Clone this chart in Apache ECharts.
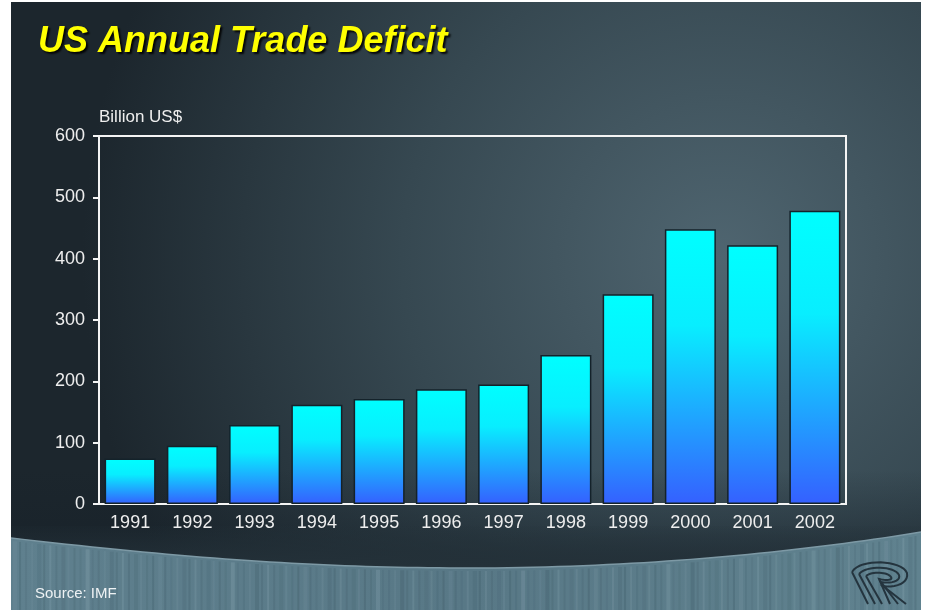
<!DOCTYPE html>
<html>
<head>
<meta charset="utf-8">
<title>US Annual Trade Deficit</title>
<script src="https://cdn.jsdelivr.net/npm/echarts@6/dist/echarts.min.js"></script>
<style>
  html, body { margin: 0; padding: 0; background: #ffffff; }
  #chart { width: 926px; height: 610px; }
</style>
</head>
<body>
<div id="chart"></div>
<script>
// Annual US trade deficit, billion US$
const years = ['1991', '1992', '1993', '1994', '1995', '1996', '1997', '1998', '1999', '2000', '2001', '2002'];
const deficit = [74, 95, 129, 162, 171, 187, 195, 243, 342, 448, 422, 478];
const yTicks = [0, 100, 200, 300, 400, 500, 600];

const W = 926, H = 610;
const PANEL = { x: 11, y: 2, w: 910, h: 608 };
const FONT = 'Liberation Sans, Arial, sans-serif';
const R = PANEL.x + PANEL.w;

// sample a cubic bezier into points
function cubic(p0, p1, p2, p3, n) {
  const pts = [];
  for (let i = 0; i <= n; i++) {
    const t = i / n, u = 1 - t;
    pts.push([
      u * u * u * p0[0] + 3 * u * u * t * p1[0] + 3 * u * t * t * p2[0] + t * t * t * p3[0],
      u * u * u * p0[1] + 3 * u * u * t * p1[1] + 3 * u * t * t * p2[1] + t * t * t * p3[1]
    ]);
  }
  return pts;
}

// curved upper edge of the bottom strip
const edge = cubic([PANEL.x, 538], [200, 560], [330, 568], [470, 568], 40)
  .concat(cubic([470, 568], [640, 568], [800, 552], [R, 532], 40).slice(1));
const bandPoly = edge.concat([[R, 610], [PANEL.x, 610]]);
const shadePoly = [[PANEL.x, 526], [R, 526]].concat(edge.slice().reverse());

function edgeY(x) {
  for (let i = 1; i < edge.length; i++) {
    if (edge[i][0] >= x) {
      const a = edge[i - 1], b = edge[i];
      const t = (x - a[0]) / ((b[0] - a[0]) || 1);
      return a[1] + t * (b[1] - a[1]);
    }
  }
  return edge[edge.length - 1][1];
}

// textured strip along the bottom: faint vertical streaks
function bandTexture() {
  const out = [];
  for (let i = 0; i < 150; i++) {
    const x = PANEL.x + 2 + i * 6.05;
    const y0 = edgeY(x) + 3;
    const a = 0.05 + 0.08 * Math.abs(Math.sin(i * 1.7) * Math.cos(i * 0.53));
    const light = (i % 3 === 0);
    out.push({
      type: 'rect',
      silent: true,
      z: -8,
      shape: { x: x, y: y0, width: (i % 4 === 0 ? 4 : 2), height: 610 - y0 },
      style: { fill: light ? 'rgba(200,225,235,' + a.toFixed(3) + ')' : 'rgba(20,40,50,' + a.toFixed(3) + ')' }
    });
  }
  return out;
}

// logo mark: three nested hooks
function logo() {
  const col = '#24343e';
  const loops = [
    [[852, 572], [860, 558], [902, 560], [907, 573], [909, 583], [896, 588], [883, 586], [906, 604]],
    [[859, 574], [866, 565], [895, 566], [899, 575], [901, 581], [891, 584], [881, 582], [898, 604]],
    [[866, 576], [872, 571], [888, 572], [891, 577], [893, 580], [887, 581], [879, 579], [890, 604]]
  ];
  const out = [];
  loops.forEach(l => {
    const top = cubic(l[0], l[1], l[2], l[3], 16);
    const back = cubic(l[3], l[4], l[5], l[6], 10).slice(1);
    out.push({ type: 'polyline', silent: true, z: -6, shape: { points: top.concat(back).concat([l[7]]) }, style: { stroke: col, lineWidth: 2, fill: null } });
    out.push({ type: 'line', silent: true, z: -6, shape: { x1: l[0][0], y1: l[0][1], x2: l[0][0] + 16, y2: 604 }, style: { stroke: col, lineWidth: 2 } });
  });
  return out;
}

const chart = echarts.init(document.getElementById('chart'), null, { renderer: 'canvas' });

chart.setOption({
  animation: false,
  backgroundColor: '#ffffff',
  title: {
    text: 'US Annual Trade Deficit',
    left: 33,
    top: 19,
    textStyle: {
      fontFamily: FONT,
      fontSize: 36,
      fontStyle: 'italic',
      fontWeight: 'bold',
      color: '#ffff00',
      textShadowColor: 'rgba(0,0,0,0.9)',
      textShadowBlur: 2,
      textShadowOffsetX: 2,
      textShadowOffsetY: 2
    }
  },
  graphic: {
    elements: [
      {
        type: 'rect',
        silent: true,
        z: -10,
        shape: { x: PANEL.x, y: PANEL.y, width: PANEL.w, height: PANEL.h },
        style: {
          fill: new echarts.graphic.RadialGradient(0.78, 0.42, 1.05, [
            { offset: 0, color: '#4f6570' },
            { offset: 0.5, color: '#364851' },
            { offset: 1, color: '#1c262d' }
          ])
        }
      },
      {
        type: 'rect',
        silent: true,
        z: -9,
        shape: { x: PANEL.x, y: 470, width: PANEL.w, height: 100 },
        style: {
          fill: new echarts.graphic.LinearGradient(0, 0, 0, 1, [
            { offset: 0, color: 'rgba(22,32,40,0)' },
            { offset: 1, color: 'rgba(22,32,40,0.6)' }
          ])
        }
      },
      {
        type: 'polygon',
        silent: true,
        z: -9,
        shape: { points: bandPoly },
        style: {
          fill: new echarts.graphic.LinearGradient(0, 0, 1, 0, [
            { offset: 0, color: '#5f808e' },
            { offset: 0.5, color: '#587886' },
            { offset: 1, color: '#60828f' }
          ])
        }
      }
    ].concat(bandTexture()).concat([
      {
        type: 'polygon',
        silent: true,
        z: -7,
        shape: { points: shadePoly },
        style: {
          fill: new echarts.graphic.LinearGradient(0, 0, 0, 1, [
            { offset: 0, color: 'rgba(36,50,58,0.1)' },
            { offset: 1, color: '#243139' }
          ])
        }
      },
      {
        type: 'polyline',
        silent: true,
        z: -7,
        shape: { points: edge },
        style: { stroke: '#7d99a5', lineWidth: 1.5, fill: null }
      }
    ]).concat(logo()).concat([
      {
        type: 'text',
        silent: true,
        z: -5,
        x: 35,
        y: 594,
        style: {
          text: 'Source: IMF',
          fill: '#eef2f4',
          font: '15px ' + FONT,
          verticalAlign: 'middle'
        }
      }
    ])
  },
  grid: {
    left: 99,
    right: W - 846,
    top: 136,
    bottom: H - 504,
    show: true,
    borderColor: '#f4f4f4',
    borderWidth: 2,
    backgroundColor: 'transparent'
  },
  xAxis: {
    type: 'category',
    data: years,
    axisLine: { show: true, lineStyle: { color: '#f4f4f4', width: 2 } },
    axisTick: { show: false },
    axisLabel: {
      color: '#eeeeee',
      fontFamily: FONT,
      fontSize: 18,
      margin: 10
    },
    splitLine: { show: false }
  },
  yAxis: {
    type: 'value',
    min: yTicks[0],
    max: yTicks[yTicks.length - 1],
    interval: 100,
    name: 'Billion US$',
    nameLocation: 'end',
    nameGap: 10,
    nameTextStyle: {
      color: '#eeeeee',
      fontFamily: FONT,
      fontSize: 17,
      align: 'left',
      verticalAlign: 'bottom'
    },
    axisLine: { show: true, lineStyle: { color: '#f4f4f4', width: 2 } },
    axisTick: { show: true, inside: false, length: 6, lineStyle: { color: '#f4f4f4', width: 2 } },
    axisLabel: {
      color: '#eeeeee',
      fontFamily: FONT,
      fontSize: 18,
      margin: 14
    },
    splitLine: { show: false }
  },
  series: [{
    type: 'bar',
    data: deficit,
    barWidth: 51,
    itemStyle: {
      color: new echarts.graphic.LinearGradient(0, 0, 0, 1, [
        { offset: 0, color: '#00ffff' },
        { offset: 0.35, color: '#08eeff' },
        { offset: 1, color: '#3560ff' }
      ]),
      borderColor: '#14222a',
      borderWidth: 1.5
    }
  }]
});
</script>
</body>
</html>
